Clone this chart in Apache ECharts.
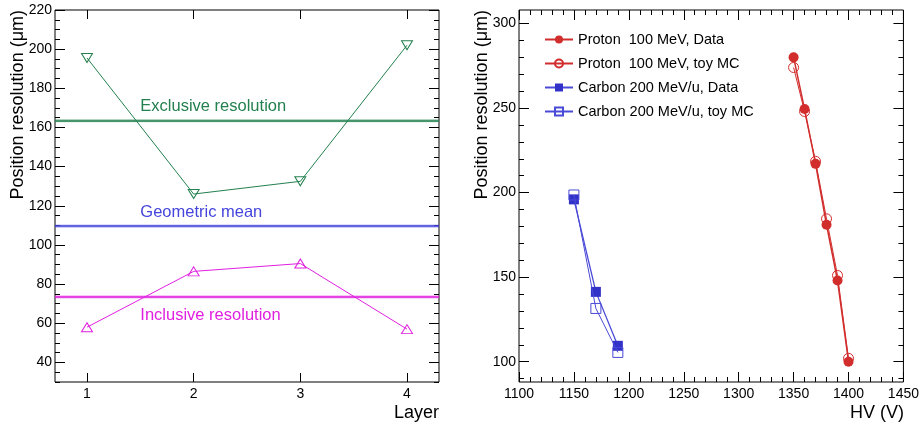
<!DOCTYPE html>
<html><head><meta charset="utf-8">
<script src="https://cdn.jsdelivr.net/npm/echarts@6/dist/echarts.min.js"></script>
<style>html,body{margin:0;padding:0;background:#fff}#c{width:922px;height:428px}</style>
</head><body><div id="c"></div>
<script>
// ---------- Left panel data ----------
const layers = [1, 2, 3, 4];
const exclusiveRes = [195.5, 126, 132.5, 202];
const inclusiveRes = [58, 86.5, 90.5, 57];
const exclusiveMean = 163.5;
const geometricMean = 109.6;
const inclusiveMean = 73.5;
const meanBand = 0.8;
const leftYTicks = [40, 60, 80, 100, 120, 140, 160, 180, 200, 220];
const annotations = [
  { text: 'Exclusive resolution', x: 1.5, y: 170.5, color: '#23804f' },
  { text: 'Geometric mean', x: 1.5, y: 116.5, color: '#4545dd' },
  { text: 'Inclusive resolution', x: 1.5, y: 64.0, color: '#e020e0' }
];
// ---------- Right panel data ----------
const hvProton = [1350, 1360, 1370, 1380, 1390, 1400];
const protonData = [280, 249.4, 217, 181, 148, 100];
const protonMC = [274, 248, 218.5, 184.5, 151, 102];
const hvCarbon = [1150, 1170, 1190];
const carbonData = [196, 141.3, 109.4];
const carbonMC = [198.6, 131.5, 105.5];
const rightYTicks = [100, 150, 200, 250, 300];
const rightXTicks = [1100, 1150, 1200, 1250, 1300, 1350, 1400, 1450];

const FONT = "'Liberation Sans', Arial, Helvetica, sans-serif";
const GREEN = '#23804f', BLUE = '#4545dd', MAG = '#e020e0';
const RED = '#d22d2d', CBLUE = '#3232c8', CBLUE2 = '#4a4ad8';

const leftYMinor = []; for (let v = 30; v <= 220; v += 5) leftYMinor.push(v);
const rightYMinor = []; for (let v = 90; v <= 300; v += 10) rightYMinor.push(v);
const rightXMinor = []; for (let v = 1100; v <= 1450; v += 10) rightXMinor.push(v);

function axis(dim, grid, pos, min, max, tickVals, tickLen, labels) {
  return {
    type: 'value', gridIndex: grid, position: pos, min: min, max: max,
    axisLine: { show: false, onZero: false },
    splitLine: { show: false },
    axisTick: { show: true, inside: true, length: tickLen, customValues: tickVals, lineStyle: { color: '#000', width: 1 } },
    axisLabel: labels ? { show: true, customValues: tickVals, color: '#000', fontSize: 14, fontFamily: FONT, margin: dim === 'x' ? 5 : 3, formatter: v => String(v) } : { show: false }
  };
}

const chart = echarts.init(document.getElementById('c'));

const xAxes = [
  axis('x', 0, 'bottom', 0.7, 4.3, layers, 9, true),
  axis('x', 0, 'top', 0.7, 4.3, layers, 9, false),
  axis('x', 1, 'bottom', 1100, 1450, rightXTicks, 10, true),
  axis('x', 1, 'bottom', 1100, 1450, rightXMinor, 5, false),
  axis('x', 1, 'top', 1100, 1450, rightXTicks, 10, false),
  axis('x', 1, 'top', 1100, 1450, rightXMinor, 5, false)
];
const yAxes = [
  axis('y', 0, 'left', 30, 220, leftYTicks, 10, true),
  axis('y', 0, 'left', 30, 220, leftYMinor, 5, false),
  axis('y', 0, 'right', 30, 220, leftYTicks, 10, false),
  axis('y', 0, 'right', 30, 220, leftYMinor, 5, false),
  axis('y', 1, 'left', 88, 308, rightYTicks, 10, true),
  axis('y', 1, 'left', 88, 308, rightYMinor, 5, false),
  axis('y', 1, 'right', 88, 308, rightYTicks, 10, false),
  axis('y', 1, 'right', 88, 308, rightYMinor, 5, false)
];

const pairs = (xs, ys) => xs.map((x, i) => [x, ys[i]]);
const CLEAR = 'rgba(0,0,0,0)';

const series = [
  {
    name: 'Exclusive', type: 'line', xAxisIndex: 0, yAxisIndex: 0, z: 5,
    data: pairs(layers, exclusiveRes),
    symbol: 'triangle', symbolRotate: 180, symbolSize: [11, 9],
    itemStyle: { color: CLEAR, borderColor: GREEN, borderWidth: 1 },
    lineStyle: { color: GREEN, width: 1 },
    markLine: {
      silent: true, symbol: 'none', label: { show: false },
      data: [
        { yAxis: exclusiveMean, lineStyle: { color: GREEN, width: 1.5, type: 'solid' } },
        { yAxis: geometricMean, lineStyle: { color: BLUE, width: 1.5, type: 'solid' } },
        { yAxis: inclusiveMean, lineStyle: { color: MAG, width: 1.5, type: 'solid' } }
      ]
    },
    markArea: {
      silent: true,
      data: [
        [{ yAxis: exclusiveMean - meanBand, itemStyle: { color: 'rgba(35,128,79,0.35)' } }, { yAxis: exclusiveMean + meanBand }],
        [{ yAxis: geometricMean - meanBand, itemStyle: { color: 'rgba(69,69,221,0.35)' } }, { yAxis: geometricMean + meanBand }],
        [{ yAxis: inclusiveMean - meanBand, itemStyle: { color: 'rgba(224,32,224,0.35)' } }, { yAxis: inclusiveMean + meanBand }]
      ]
    }
  },
  {
    name: 'Inclusive', type: 'line', xAxisIndex: 0, yAxisIndex: 0, z: 5,
    data: pairs(layers, inclusiveRes),
    symbol: 'triangle', symbolSize: [11, 9],
    itemStyle: { color: CLEAR, borderColor: MAG, borderWidth: 1 },
    lineStyle: { color: MAG, width: 1 }
  },
  {
    name: 'Proton  100 MeV, Data', type: 'line', xAxisIndex: 2, yAxisIndex: 4, z: 4,
    data: pairs(hvProton, protonData),
    symbol: 'circle', symbolSize: 10,
    itemStyle: { color: RED, borderColor: RED, borderWidth: 0 },
    lineStyle: { color: RED, width: 1.5 }
  },
  {
    name: 'Proton  100 MeV, toy MC', type: 'line', xAxisIndex: 2, yAxisIndex: 4, z: 5,
    data: pairs(hvProton, protonMC),
    symbol: 'circle', symbolSize: 10,
    itemStyle: { color: CLEAR, borderColor: RED, borderWidth: 1 },
    lineStyle: { color: RED, width: 1 }
  },
  {
    name: 'Carbon 200 MeV/u, Data', type: 'line', xAxisIndex: 2, yAxisIndex: 4, z: 4,
    data: pairs(hvCarbon, carbonData),
    symbol: 'rect', symbolSize: 10,
    itemStyle: { color: CBLUE, borderColor: CBLUE, borderWidth: 0 },
    lineStyle: { color: CBLUE2, width: 1.3 }
  },
  {
    name: 'Carbon 200 MeV/u, toy MC', type: 'line', xAxisIndex: 2, yAxisIndex: 4, z: 5,
    data: pairs(hvCarbon, carbonMC),
    symbol: 'rect', symbolSize: 10,
    itemStyle: { color: CLEAR, borderColor: CBLUE2, borderWidth: 1 },
    lineStyle: { color: CBLUE2, width: 1 }
  }
];

chart.setOption({
  animation: false,
  backgroundColor: '#fff',
  grid: [
    { left: 55, top: 10, width: 384, height: 372, show: true, borderColor: '#000', borderWidth: 1, backgroundColor: 'transparent' },
    { left: 519, top: 10, width: 385, height: 372, show: true, borderColor: '#000', borderWidth: 1, backgroundColor: 'transparent' }
  ],
  xAxis: xAxes,
  yAxis: yAxes,
  legend: {
    show: true, orient: 'vertical', left: 544, top: 32, padding: 0, itemWidth: 28, itemHeight: 10, itemGap: 9,
    selectedMode: false,
    data: ['Proton  100 MeV, Data', 'Proton  100 MeV, toy MC', 'Carbon 200 MeV/u, Data', 'Carbon 200 MeV/u, toy MC'],
    textStyle: { color: '#000', fontSize: 14.5, fontFamily: FONT }
  },
  series: series
});

const g = [
  { type: 'text', x: 18, y: 10, rotation: Math.PI / 2, style: { text: 'Position resolution (\u03bcm)', fontSize: 18, fontFamily: FONT, fill: '#000', align: 'right', verticalAlign: 'middle' } },
  { type: 'text', x: 482, y: 10, rotation: Math.PI / 2, style: { text: 'Position resolution (\u03bcm)', fontSize: 18, fontFamily: FONT, fill: '#000', align: 'right', verticalAlign: 'middle' } },
  { type: 'text', x: 439, y: 413, style: { text: 'Layer', fontSize: 18, fontFamily: FONT, fill: '#000', align: 'right', verticalAlign: 'middle' } },
  { type: 'text', x: 904, y: 413, style: { text: 'HV (V)', fontSize: 18, fontFamily: FONT, fill: '#000', align: 'right', verticalAlign: 'middle' } }
];
annotations.forEach(a => {
  const p = chart.convertToPixel({ xAxisIndex: 0, yAxisIndex: 0 }, [a.x, a.y]);
  g.push({ type: 'text', x: p[0], y: p[1], style: { text: a.text, fontSize: 16.5, fontFamily: FONT, fill: a.color, align: 'left', verticalAlign: 'middle' } });
});
chart.setOption({ graphic: g });
</script></body></html>
